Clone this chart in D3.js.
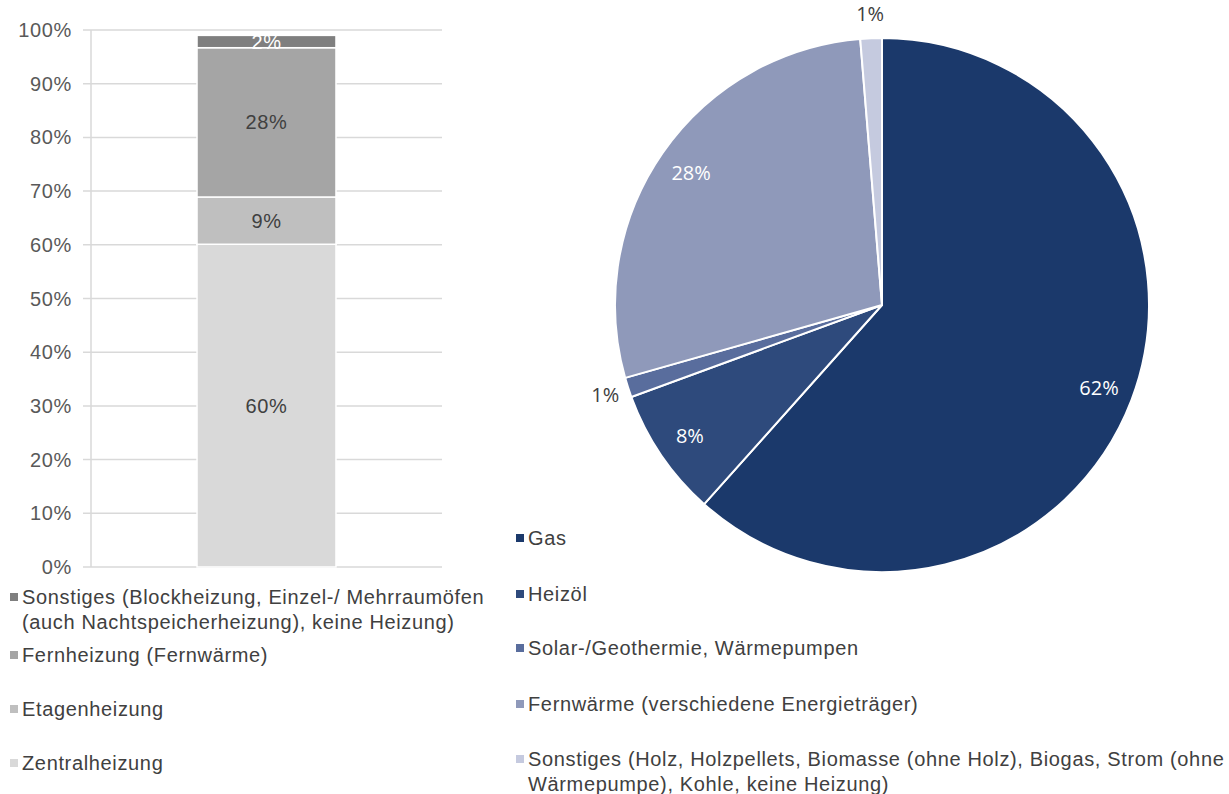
<!DOCTYPE html>
<html>
<head>
<meta charset="utf-8">
<script src="https://cdn.jsdelivr.net/npm/d3@7"></script>
<style>
  body { margin: 0; background: #fff; }
  svg { display: block; }
  svg text { font-family: "Liberation Sans", Arial, sans-serif; letter-spacing: 0.65px; }
  svg text.pielabel { font-family: "Open Sans", "Noto Sans", sans-serif; letter-spacing: 0; }
</style>
</head>
<body>
<svg id="chart" width="1229" height="794"></svg>
<script>
// Heizungsart (gestapelte Säule)
const barCategories = ["Zentralheizung", "Etagenheizung", "Fernheizung (Fernwärme)",
  "Sonstiges (Blockheizung, Einzel-/ Mehrraumöfen\n(auch Nachtspeicherheizung), keine Heizung)"];
const barValues = [60.1, 8.8, 27.8, 2.3];
const barLabels = ["60%", "9%", "28%", "2%"];
const barColors = ["#d9d9d9", "#bfbfbf", "#a5a5a5", "#7f7f7f"];
const yTicks = [0, 10, 20, 30, 40, 50, 60, 70, 80, 90, 100];

// Energieträger (Kreis)
const pieCategories = ["Gas", "Heizöl", "Solar-/Geothermie, Wärmepumpen",
  "Fernwärme (verschiedene Energieträger)",
  "Sonstiges (Holz, Holzpellets, Biomasse (ohne Holz), Biogas, Strom (ohne\nWärmepumpe), Kohle, keine Heizung)"];
const pieValues = [61.6, 7.8, 1.2, 28.1, 1.3];
const pieLabels = ["62%", "8%", "1%", "28%", "1%"];
const pieColors = ["#1b396b", "#2e4a7c", "#596d9d", "#8f99ba", "#c5cadf"];

const svg = d3.select("#chart");
const FS = 20;

// ---- Säulendiagramm ----
const y = d3.scaleLinear().domain([0, 100]).range([567, 30]);
const x = d3.scaleBand().domain(["all"]).range([91, 442]).paddingInner(0).paddingOuter(0.763);

const grid = svg.append("g");
grid.selectAll("line").data(yTicks).enter().append("line")
  .attr("x1", 83).attr("x2", 442)
  .attr("y1", d => y(d)).attr("y2", d => y(d))
  .attr("stroke", "#d9d9d9").attr("stroke-width", 1.5);
grid.append("line")
  .attr("x1", 91).attr("x2", 91).attr("y1", y(100)).attr("y2", y(0))
  .attr("stroke", "#d9d9d9").attr("stroke-width", 1.5);

svg.append("g").selectAll("text").data(yTicks).enter().append("text")
  .attr("x", 72).attr("y", d => y(d))
  .attr("dy", "0.35em").attr("text-anchor", "end")
  .attr("font-size", FS).attr("fill", "#595959")
  .text(d => d + "%");

const stacked = [];
let acc = 0;
barValues.forEach((v, i) => { stacked.push({ y0: acc, y1: acc + v, i }); acc += v; });

const bx = x("all"), bw = x.bandwidth();
svg.append("g").selectAll("rect").data(stacked).enter().append("rect")
  .attr("x", bx).attr("width", bw)
  .attr("y", d => y(d.y1)).attr("height", d => y(d.y0) - y(d.y1))
  .attr("fill", d => barColors[d.i])
  .attr("stroke", "#fff").attr("stroke-width", 1.5);

svg.append("g").selectAll("text").data(stacked).enter().append("text")
  .attr("x", bx + bw / 2).attr("y", d => y((d.y0 + d.y1) / 2))
  .attr("dy", "0.35em").attr("text-anchor", "middle")
  .attr("font-size", FS)
  .attr("fill", d => d.i === 3 ? "#ffffff" : "#404040")
  .text(d => barLabels[d.i]);

// Legende links (umgekehrte Reihenfolge)
const leftLegendY = [597, 655, 709, 763];
const leftLegend = svg.append("g");
barCategories.slice().reverse().forEach((cat, k) => {
  const i = barCategories.length - 1 - k;
  const g = leftLegend.append("g");
  g.append("rect").attr("x", 10).attr("y", leftLegendY[k] - 4).attr("width", 8).attr("height", 8)
    .attr("fill", barColors[i]);
  cat.split("\n").forEach((line, j) => {
    g.append("text").attr("x", 22).attr("y", leftLegendY[k] + j * 25)
      .attr("dy", "0.35em").attr("font-size", FS).attr("fill", "#404040").text(line);
  });
});

// ---- Kreisdiagramm ----
const cx = 882, cy = 305, r = 267;
const pie = d3.pie().sort(null).value(d => d)(pieValues);
const arc = d3.arc().innerRadius(0).outerRadius(r);
const pg = svg.append("g").attr("transform", `translate(${cx},${cy})`);
pg.selectAll("path").data(pie).enter().append("path")
  .attr("d", arc)
  .attr("fill", (d, i) => pieColors[i])
  .attr("stroke", "#fff").attr("stroke-width", 2);

const inArc = d3.arc().innerRadius(r * 0.87).outerRadius(r * 0.87);
const outArc = d3.arc().innerRadius(r * 1.09).outerRadius(r * 1.09);
pg.selectAll("text").data(pie).enter().append("text")
  .attr("class", "pielabel")
  .attr("transform", (d, i) => {
    const c = pieValues[i] < 3 ? outArc.centroid(d) : inArc.centroid(d);
    return `translate(${c[0]},${c[1]})`;
  })
  .attr("dy", "0.35em").attr("text-anchor", "middle")
  .attr("font-size", FS)
  .attr("fill", (d, i) => pieValues[i] < 3 ? "#404040" : "#ffffff")
  .text((d, i) => pieLabels[i]);

// Legende rechts
const rightLegendY = [538, 594, 648, 704, 759];
const rightLegend = svg.append("g");
pieCategories.forEach((cat, i) => {
  const g = rightLegend.append("g");
  g.append("rect").attr("x", 516).attr("y", rightLegendY[i] - 4).attr("width", 8).attr("height", 8)
    .attr("fill", pieColors[i]);
  cat.split("\n").forEach((line, j) => {
    g.append("text").attr("x", 528).attr("y", rightLegendY[i] + j * 25)
      .attr("dy", "0.35em").attr("font-size", FS).attr("fill", "#404040").text(line);
  });
});
</script>
</body>
</html>
